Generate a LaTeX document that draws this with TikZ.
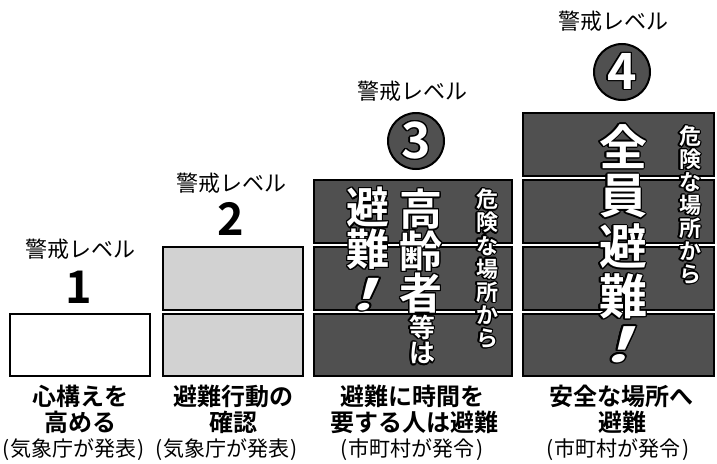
\documentclass[tikz,border=0pt]{standalone}
\usepackage{fontspec}
\setmainfont{Noto Sans CJK JP}[BoldFont=* Bold]
\usepackage{contour}
\contourlength{1.3pt}
\definecolor{dk}{HTML}{505050}
\definecolor{lt}{HTML}{D2D2D2}
\tikzset{
  rowbox/.style={draw=black, line width=2.2pt},
  lvltxt/.style={font=\fontsize{22}{22}\selectfont, inner sep=0pt},
  lvlnum/.style={font=\fontsize{45}{45}\selectfont\bfseries, inner sep=0pt},
  badge/.style={circle, fill=dk, draw=black, line width=2pt, minimum size=56pt, inner sep=0pt},
  badgenum/.style={font=\fontsize{50}{50}\selectfont\bfseries, text=white, inner sep=0pt},
  vbig/.style={font=\fontsize{43}{43}\selectfont\bfseries, text=white, inner sep=0pt},
  vhuge/.style={font=\fontsize{48}{48}\selectfont\bfseries, text=white, inner sep=0pt},
  vmid/.style={font=\fontsize{26}{26}\selectfont\bfseries, text=white, inner sep=0pt},
  vsmall/.style={font=\fontsize{22}{22}\selectfont\bfseries, text=white, inner sep=0pt},
  captb/.style={font=\fontsize{24}{24}\selectfont\bfseries, inner sep=0pt},
  captr/.style={font=\fontsize{21}{21}\selectfont, inner sep=0pt},
}
\begin{document}
\begin{tikzpicture}[x=1pt,y=-1pt]
\useasboundingbox[fill=white] (0,0) rectangle (717,463);

% level 1
\draw[rowbox, fill=white] (10,314) rectangle (150,376);
% level 2
\draw[rowbox, fill=lt] (163,247) rectangle (303,310);
\draw[rowbox, fill=lt] (163,314) rectangle (303,376);
% level 3
\draw[rowbox, fill=dk] (314,180) rectangle (512,243);
\draw[rowbox, fill=dk] (314,247) rectangle (512,310);
\draw[rowbox, fill=dk] (314,314) rectangle (512,376);
% level 4
\draw[rowbox, fill=dk] (523,113) rectangle (714,176);
\draw[rowbox, fill=dk] (523,180) rectangle (714,243);
\draw[rowbox, fill=dk] (523,247) rectangle (714,310);
\draw[rowbox, fill=dk] (523,314) rectangle (714,376);

% headings
\node[lvltxt] (h1) at (80,249) {警戒レベル};
\node[lvlnum] (n1) at (79,287) {1};
\node[lvltxt] (h2) at (231,183) {警戒レベル};
\node[lvlnum] (n2) at (231,219) {2};
\node[lvltxt] (h3) at (412,91) {警戒レベル};
\node[badge] (c3) at (416,141) {};
\node[badgenum] (n3) at (c3) {\contour{black}{3}};
\node[lvltxt] (h4) at (613,21) {警戒レベル};
\node[badge] (c4) at (622,72) {};
\node[badgenum] (n4) at (c4) {\contour{black}{4}};

% level 3 vertical texts
\foreach \c [count=\i from 0] in {避,難}
  \node[vbig] (pa\i) at (368,{208+42*\i}) {\contour{black}{\c}};
\begin{scope}[shift={(368,295)}, xslant=0.35, xscale=1.5]
  \node[vbig, transform shape] (pa2) at (0,0) {\contour{black}{！}};
\end{scope}
\foreach \c [count=\i from 0] in {高,齢,者}
  \node[vbig] (pb\i) at (421,{210+42*\i}) {\contour{black}{\c}};
\foreach \c [count=\i from 0] in {等,は}
  \node[vmid] (pc\i) at (422,{328+26*\i}) {\contour{black}{\c}};
\foreach \c [count=\i from 0] in {危,険,な,場,所,か,ら}
  \node[vsmall] (pd\i) at (487,{200+23.2*\i}) {\contour{black}{\c}};

% level 4 vertical texts
\foreach \c [count=\i from 0] in {全,員,避,難}
  \node[vhuge] (qa\i) at (623,{147+50*\i}) {\contour{black}{\c}};
\begin{scope}[shift={(623,345)}, xslant=0.35, xscale=1.5]
  \node[vhuge, transform shape] (qa4) at (0,0) {\contour{black}{！}};
\end{scope}
\foreach \c [count=\i from 0] in {危,険,な,場,所,か,ら}
  \node[vsmall] (qd\i) at (690,{137+23*\i}) {\contour{black}{\c}};

% captions
\node[captb] (b1a) at (80,396) {心構えを};
\node[captb] (b1b) at (80,422) {高める};
\node[captr] (b1c) at (74,450) {(\hspace{1pt}気象庁が発表\hspace{1pt})};
\node[captb] (b2a) at (233,396) {避難行動の};
\node[captb] (b2b) at (233,422) {確認};
\node[captr] (b2c) at (227,450) {(\hspace{1pt}気象庁が発表\hspace{1pt})};
\node[captb] (b3a) at (412,396) {避難に時間を};
\node[captb] (b3b) at (414,422) {要する人は避難};
\node[captr] (b3c) at (412,450) {(\hspace{1pt}市町村が発令\hspace{1pt})};
\node[captb] (b4a) at (621,396) {安全な場所へ};
\node[captb] (b4b) at (622,422) {避難};
\node[captr] (b4c) at (618,450) {(\hspace{1pt}市町村が発令\hspace{1pt})};
\end{tikzpicture}
\end{document}
